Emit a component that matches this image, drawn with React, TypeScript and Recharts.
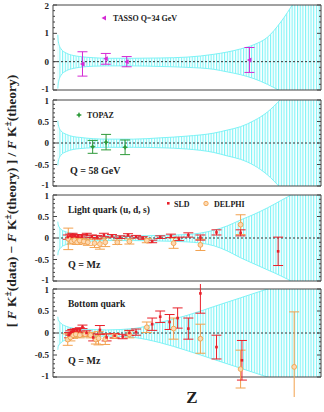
import { ComposedChart, Area, Scatter, ErrorBar, XAxis, YAxis, ReferenceLine, ReferenceArea } from "recharts";

const SERIF = "'Liberation Serif', 'Times New Roman', serif";
const CYAN = "#7ef3f6";

// theory uncertainty band, sampled along z
const bandZ = [0.018, 0.02, 0.03, 0.05, 0.075, 0.1, 0.15, 0.2, 0.3, 0.4, 0.5, 0.6, 0.65, 0.7, 0.75, 0.8, 0.85, 0.9, 0.95, 1.0];
const band34Hi = [0.95, 0.7, 0.45, 0.3, 0.22, 0.18, 0.14, 0.12, 0.12, 0.13, 0.16, 0.26, 0.34, 0.45, 0.6, 0.86, 1.4, 2.1, 2.8, 3.2];
const band34Lo = [-0.95, -0.75, -0.48, -0.32, -0.24, -0.2, -0.16, -0.15, -0.15, -0.17, -0.2, -0.27, -0.36, -0.46, -0.6, -0.8, -1.05, -1.4, -1.8, -2.2];
const band58Hi = [0.52, 0.42, 0.28, 0.2, 0.15, 0.13, 0.1, 0.09, 0.09, 0.12, 0.16, 0.23, 0.3, 0.38, 0.52, 0.72, 1.02, 1.4, 1.8, 2.2];
const band58Lo = [-0.52, -0.42, -0.28, -0.2, -0.15, -0.13, -0.11, -0.1, -0.1, -0.11, -0.14, -0.22, -0.3, -0.38, -0.52, -0.74, -1.05, -1.4, -1.8, -2.2];
const bandLightHi = [0.38, 0.3, 0.2, 0.14, 0.1, 0.08, 0.06, 0.05, 0.05, 0.06, 0.08, 0.18, 0.28, 0.42, 0.55, 0.7, 0.87, 1.05, 1.3, 1.6];
const bandLightLo = [-0.4, -0.32, -0.22, -0.15, -0.11, -0.09, -0.07, -0.06, -0.06, -0.07, -0.09, -0.18, -0.3, -0.46, -0.6, -0.74, -0.88, -1.05, -1.3, -1.6];
const bandBottomHi = [0.37, 0.3, 0.22, 0.15, 0.11, 0.09, 0.08, 0.07, 0.1, 0.24, 0.4, 0.6, 0.7, 0.8, 0.9, 1.0, 1.1, 1.2, 1.3, 1.4];
const bandBottomLo = [-0.38, -0.3, -0.22, -0.15, -0.11, -0.09, -0.08, -0.07, -0.1, -0.22, -0.4, -0.6, -0.7, -0.8, -0.9, -1.0, -1.1, -1.2, -1.3, -1.4];

// TASSO, Q = 34 GeV
const tassoZ = [0.11, 0.197, 0.275, 0.733];
const tassoVal = [-0.08, 0.1, 0.0, 0.06];
const tassoErr = [0.43, 0.19, 0.18, 0.44];

// TOPAZ, Q = 58 GeV
const topazZ = [0.148, 0.198, 0.269];
const topazVal = [-0.09, 0.02, -0.1];
const topazErr = [0.15, 0.18, 0.17];

// light quark tagged, Q = Mz
const sldLightZ = [0.055, 0.065, 0.073, 0.082, 0.094, 0.107, 0.126, 0.145, 0.165, 0.19, 0.22, 0.25, 0.28, 0.31, 0.335, 0.37, 0.4, 0.44, 0.47, 0.505, 0.55, 0.61, 0.7, 0.84];
const sldLightVal = [0.02, 0.05, 0.07, 0.05, 0.04, 0.05, 0.08, 0.04, 0.02, 0.07, 0.05, 0.02, 0.07, 0.03, 0.0, -0.08, 0.02, 0.05, -0.02, 0.07, 0.01, 0.13, 0.12, -0.31];
const sldLightErr = [0.05, 0.04, 0.04, 0.03, 0.03, 0.03, 0.03, 0.03, 0.04, 0.04, 0.03, 0.03, 0.03, 0.03, 0.03, 0.03, 0.03, 0.04, 0.04, 0.05, 0.06, 0.06, 0.07, 0.33];
const delphiLightZ = [0.057, 0.07, 0.08, 0.09, 0.1, 0.115, 0.13, 0.155, 0.175, 0.195, 0.24, 0.285, 0.35, 0.45, 0.55, 0.7];
const delphiLightVal = [-0.02, -0.08, -0.05, -0.1, -0.06, -0.08, -0.1, -0.12, -0.14, -0.1, -0.1, -0.08, -0.06, -0.12, -0.16, 0.31];
const delphiLightErr = [0.25, 0.06, 0.05, 0.05, 0.05, 0.06, 0.07, 0.1, 0.12, 0.1, 0.05, 0.06, 0.05, 0.12, 0.13, 0.23];

// bottom quark tagged, Q = Mz
const sldBottomZ = [0.06, 0.065, 0.072, 0.08, 0.09, 0.1, 0.11, 0.125, 0.15, 0.175, 0.2, 0.23, 0.26, 0.285, 0.31, 0.37, 0.4, 0.435, 0.465, 0.505, 0.55, 0.61, 0.705];
const sldBottomVal = [-0.05, 0.0, 0.03, 0.05, 0.06, 0.07, 0.14, 0.0, -0.1, 0.07, -0.1, -0.06, -0.08, 0.0, 0.02, 0.2, 0.37, 0.25, 0.34, 0.1, 0.9, -0.32, -0.62];
const sldBottomErr = [0.06, 0.05, 0.05, 0.04, 0.04, 0.05, 0.04, 0.05, 0.08, 0.1, 0.08, 0.05, 0.05, 0.06, 0.07, 0.14, 0.13, 0.17, 0.23, 0.24, 0.45, 0.27, 0.45];
const delphiBottomZ = [0.055, 0.065, 0.075, 0.085, 0.1, 0.12, 0.14, 0.16, 0.17, 0.195, 0.23, 0.285, 0.35, 0.45, 0.55, 0.7, 0.9];
const delphiBottomVal = [-0.15, -0.1, -0.05, -0.03, -0.05, -0.03, -0.05, -0.15, -0.12, -0.14, -0.07, -0.03, 0.13, 0.1, -0.13, -0.82, -0.77];
const delphiBottomErr = [0.13, 0.08, 0.07, 0.06, 0.06, 0.05, 0.06, 0.1, 0.15, 0.12, 0.05, 0.08, 0.12, 0.24, 0.33, 0.43, 1.25];

const xTicks = [0, 0.05, 0.1, 0.15, 0.2, 0.25, 0.3, 0.35, 0.4, 0.45, 0.5, 0.55, 0.6, 0.65, 0.7, 0.75, 0.8, 0.85, 0.9, 0.95, 1];
const xLabels = [0, 0.2, 0.4, 0.6, 0.8, 1];
const yTicksWide = [-1, -0.8, -0.6, -0.4, -0.2, 0, 0.2, 0.4, 0.6, 0.8, 1, 1.2, 1.4, 1.6, 1.8, 2];
const yLabelsWide = [-1, 0, 1, 2];
const yTicksNarrow = [-1, -0.9, -0.8, -0.7, -0.6, -0.5, -0.4, -0.3, -0.2, -0.1, 0, 0.1, 0.2, 0.3, 0.4, 0.5, 0.6, 0.7, 0.8, 0.9, 1];
const yLabelsNarrow = [-1, -0.5, 0, 0.5, 1];

const PLOT_W = 268;
const has = (list: number[], v: number) => list.some((l) => Math.abs(l - v) < 1e-6);

const makeBand = (hi: number[], lo: number[]) => bandZ.map((z, i) => ({ z, band: [lo[i], hi[i]] }));
const makePoints = (zs: number[], vs: number[], es: number[]) => zs.map((z, i) => ({ z, v: vs[i], err: es[i] }));

function makeXTick(plotH: number, showLabels: boolean) {
  return (props: any) => {
    const { x, y, payload } = props;
    const v = payload.value;
    const len = has(xLabels, v) ? 4 : 2;
    return (
      <g>
        <line x1={x} x2={x} y1={y} y2={y - len} stroke="#444" />
        <line x1={x} x2={x} y1={y - plotH} y2={y - plotH + len} stroke="#444" />
        {showLabels && has(xLabels, v) && (
          <text x={x} y={y + 12} textAnchor="middle" fontSize={9} fontWeight="bold" fontFamily={SERIF} fill="#222">
            {String(v)}
          </text>
        )}
      </g>
    );
  };
}

function makeYTick(labels: number[], domain: [number, number]) {
  return (props: any) => {
    const { x, y, payload } = props;
    const v = payload.value;
    const major = has(labels, v);
    const len = major ? 4 : 2;
    // keep the edge labels of stacked panels apart
    const dy = v === domain[1] ? 4 : v === domain[0] ? 1.5 : 3;
    return (
      <g>
        <line x1={x} x2={x + len} y1={y} y2={y} stroke="#444" />
        <line x1={x + PLOT_W} x2={x + PLOT_W - len} y1={y} y2={y} stroke="#444" />
        {major && (
          <text x={x - 4} y={y + dy} textAnchor="end" fontSize={9} fontWeight="bold" fontFamily={SERIF} fill="#222">
            {String(v)}
          </text>
        )}
      </g>
    );
  };
}

const Square = (color: string) => (p: any) => <rect x={p.cx - 1.3} y={p.cy - 1.3} width={2.6} height={2.6} fill={color} />;
const OpenCircle = (p: any) => <circle cx={p.cx} cy={p.cy} r={2.4} fill="#fcd8b0" stroke="#f2a14e" strokeWidth={0.9} />;
const LeftTriangle = (p: any) => <path d={`M${p.cx - 2.5},${p.cy} L${p.cx + 2},${p.cy - 2.5} L${p.cx + 2},${p.cy + 2.5}Z`} fill="#d42ad4" />;
const Star = (p: any) => (
  <path d={`M${p.cx},${p.cy - 3} L${p.cx + 1},${p.cy - 1} L${p.cx + 3},${p.cy} L${p.cx + 1},${p.cy + 1} L${p.cx},${p.cy + 3} L${p.cx - 1},${p.cy + 1} L${p.cx - 3},${p.cy} L${p.cx - 1},${p.cy - 1}Z`} fill="#2e9a3a" />
);

type Series = { data: any[]; color: string; shape: any };

function Panel(props: { top: number; plotH: number; domain: [number, number]; yTicks: number[]; yLabels: number[]; band: any[]; series: Series[]; last?: boolean }) {
  const { top, plotH, domain, yTicks, yLabels, band, series, last } = props;
  const bottom = last ? 20 : 5;
  return (
    <div style={{ position: "absolute", left: 0, top: top - 5 }}>
      <ComposedChart width={324} height={plotH + 5 + bottom} data={band} margin={{ top: 5, right: 3, bottom, left: 0 }}>
        <XAxis
          dataKey="z"
          type="number"
          domain={[0, 1]}
          allowDataOverflow
          ticks={xTicks}
          interval={0}
          height={0}
          tickSize={0}
          tickMargin={0}
          axisLine={false}
          tickLine={false}
          tick={makeXTick(plotH, !!last)}
        />
        <YAxis
          type="number"
          domain={domain}
          allowDataOverflow
          ticks={yTicks}
          interval={0}
          width={53}
          tickSize={0}
          tickMargin={0}
          axisLine={false}
          tickLine={false}
          tick={makeYTick(yLabels, domain)}
        />
        <Area type="monotone" dataKey="band" fill="url(#hatch)" fillOpacity={1} stroke={CYAN} strokeWidth={1} isAnimationActive={false} />
        <ReferenceLine y={0} stroke="#333" strokeDasharray="2 2" />
        {series.map((s, i) => (
          <Scatter key={i} data={s.data} dataKey="v" fill={s.color} shape={s.shape} isAnimationActive={false}>
            <ErrorBar dataKey="err" direction="y" width={5} stroke={s.color} strokeWidth={1} />
          </Scatter>
        ))}
        <ReferenceArea x1={0} x2={1} y1={domain[0]} y2={domain[1]} fill="none" stroke="#444" strokeWidth={1} />
      </ComposedChart>
    </div>
  );
}

const txt = { fontFamily: SERIF, fontWeight: "bold" as const, fill: "#222" };

export default function App() {
  return (
    <div style={{ position: "absolute", left: 0, top: 0, width: 324, height: 412, background: "#fff" }}>
      <svg width={0} height={0} style={{ position: "absolute" }}>
        <defs>
          <pattern id="hatch" patternUnits="userSpaceOnUse" width={2.7} height={10}>
            <rect x={0} y={0} width={1.1} height={10} fill={CYAN} />
          </pattern>
        </defs>
      </svg>
      <Panel
        top={5}
        plotH={85}
        domain={[-1, 2]}
        yTicks={yTicksWide}
        yLabels={yLabelsWide}
        band={makeBand(band34Hi, band34Lo)}
        series={[{ data: makePoints(tassoZ, tassoVal, tassoErr), color: "#d42ad4", shape: LeftTriangle }]}
      />
      <Panel
        top={100}
        plotH={86}
        domain={[-1, 1]}
        yTicks={yTicksNarrow}
        yLabels={yLabelsNarrow}
        band={makeBand(band58Hi, band58Lo)}
        series={[{ data: makePoints(topazZ, topazVal, topazErr), color: "#2e9a3a", shape: Star }]}
      />
      <Panel
        top={195}
        plotH={86}
        domain={[-1, 1]}
        yTicks={yTicksNarrow}
        yLabels={yLabelsNarrow}
        band={makeBand(bandLightHi, bandLightLo)}
        series={[
          { data: makePoints(delphiLightZ, delphiLightVal, delphiLightErr), color: "#f2a14e", shape: OpenCircle },
          { data: makePoints(sldLightZ, sldLightVal, sldLightErr), color: "#e8202a", shape: Square("#e8202a") },
        ]}
      />
      <Panel
        top={289}
        plotH={88}
        domain={[-1, 1]}
        yTicks={yTicksNarrow}
        yLabels={yLabelsNarrow}
        band={makeBand(bandBottomHi, bandBottomLo)}
        series={[
          { data: makePoints(delphiBottomZ, delphiBottomVal, delphiBottomErr), color: "#f2a14e", shape: OpenCircle },
          { data: makePoints(sldBottomZ, sldBottomVal, sldBottomErr), color: "#e8202a", shape: Square("#e8202a") },
        ]}
        last
      />
      <svg width={324} height={412} style={{ position: "absolute", left: 0, top: 0, pointerEvents: "none" }}>
        <path d="M101.5,18 L106,15.5 L106,20.5Z" fill="#d42ad4" />
        <text x={113} y={21} fontSize={8} {...txt}>TASSO  Q=34 GeV</text>
        <path d="M79,112 L80,114 L82,115 L80,116 L79,118 L78,116 L76,115 L78,114Z" fill="#2e9a3a" />
        <text x={87} y={118} fontSize={8} {...txt}>TOPAZ</text>
        <text x={70} y={174} fontSize={10} {...txt}>Q = 58 GeV</text>
        <text x={68} y={213} fontSize={9.5} {...txt}>Light quark (u, d, s)</text>
        <rect x={167} y={202} width={2.6} height={2.6} fill="#e8202a" />
        <text x={174} y={207} fontSize={8} {...txt}>SLD</text>
        <circle cx={206} cy={203.5} r={2.2} fill="#fcd8b0" stroke="#f2a14e" strokeWidth={0.9} />
        <text x={214} y={207} fontSize={8} {...txt}>DELPHI</text>
        <text x={68} y={268} fontSize={10} {...txt}>Q = Mz</text>
        <text x={68} y={307} fontSize={9.5} {...txt}>Bottom quark</text>
        <text x={68} y={364} fontSize={10} {...txt}>Q = Mz</text>
        <text x={192} y={403} fontSize={17} textAnchor="middle" {...txt}>Z</text>
        <text transform="translate(16, 201) rotate(-90)" textAnchor="middle" fontSize={13.5} {...txt}>
          <tspan>[ </tspan>
          <tspan fontStyle="italic">F</tspan>
          <tspan> K</tspan>
          <tspan dy={-5} fontSize={9.5}>±</tspan>
          <tspan dy={5}>(data) − </tspan>
          <tspan fontStyle="italic">F</tspan>
          <tspan> K</tspan>
          <tspan dy={-5} fontSize={9.5}>±</tspan>
          <tspan dy={5}>(theory) ] / </tspan>
          <tspan fontStyle="italic">F</tspan>
          <tspan> K</tspan>
          <tspan dy={-5} fontSize={9.5}>±</tspan>
          <tspan dy={5}>(theory)</tspan>
        </text>
      </svg>
    </div>
  );
}
